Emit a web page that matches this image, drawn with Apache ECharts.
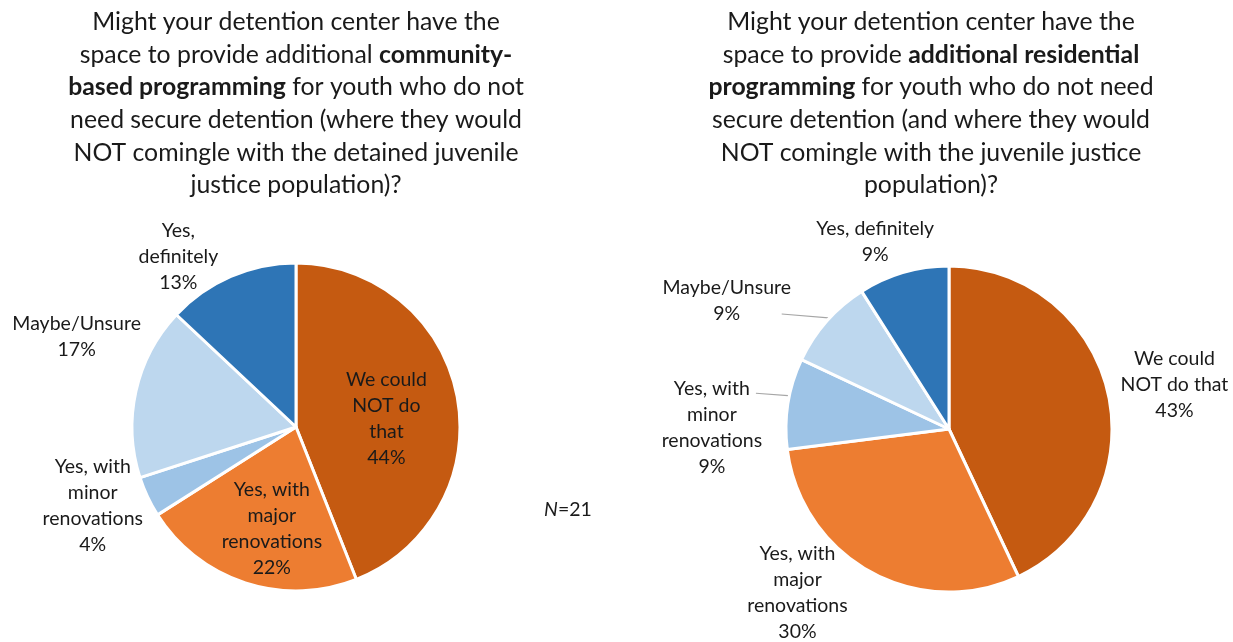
<!DOCTYPE html>
<html>
<head>
<meta charset="utf-8">
<script src="https://cdn.jsdelivr.net/npm/echarts@6/dist/echarts.min.js"></script>
<style>
html,body{margin:0;padding:0;background:#fff;}
#chart{width:1233px;height:642px;}
</style>
</head>
<body>
<div id="chart"></div>
<script>
// ---- Data ----
const leftLabels = ['We could\nNOT do\nthat', 'Yes, with\nmajor\nrenovations', 'Yes, with\nminor\nrenovations', 'Maybe/Unsure', 'Yes,\ndefinitely'];
const leftValues = [44, 22, 4, 17, 13];
const rightLabels = ['We could\nNOT do that', 'Yes, with\nmajor\nrenovations', 'Yes, with\nminor\nrenovations', 'Maybe/Unsure', 'Yes, definitely'];
const rightValues = [43, 30, 9, 9, 9];
const sliceColors = ['#C55A11', '#ED7D31', '#9DC3E6', '#BDD7EE', '#2E75B6'];
const leftTitle = 'Might your detention center have the\nspace to provide additional {b|community-}\n{b|based programming} for youth who do not\nneed secure detention (where they would\nNOT comingle with the detained juvenile\njustice population)?';
const rightTitle = 'Might your detention center have the\nspace to provide {b|additional residential}\n{b|programming} for youth who do not need\nsecure detention (and where they would\nNOT comingle with the juvenile justice\npopulation)?';
const sampleNote = '{i|N}{n|=21}';

// ---- Layout config ----
const FONT = 'Lato';
const LABEL_SIZE = 19.5;
const pies = [
  {center: [296, 427], radius: 164, values: leftValues, labels: leftLabels,
   inside: [true, true, false, false, false],
   // [distance along mid-angle, nudge x, nudge y]
   place: [[90, 2, 9], [104, 8, 3], [218, -6, -14], [234, 9, -39], [203, -37, 16]],
   lines: [null, null, null, null, null]},
  {center: [949, 429], radius: 163, values: rightValues, labels: rightLabels,
   inside: [false, false, false, false, false],
   place: [[230, 1, 6], [217, -47, -26], [235, -5, 35], [251, -34, 38], [200, -18, 5]],
   // [start dx, start dy (from label centre), end dx, end dy (from slice edge)]
   lines: [null, null, [44, -34, -1, -8], [55, 13, 1, -4], null]}
];

function midDir(values, idx) {
  const total = values.reduce((a, b) => a + b, 0);
  let cum = 0;
  for (let i = 0; i < idx; i++) cum += values[i];
  const a = (cum + values[idx] / 2) / total * Math.PI * 2;
  return [Math.sin(a), -Math.cos(a)];
}

function buildSeries(p, si) {
  return {
    type: 'pie',
    center: p.center,
    radius: p.radius,
    startAngle: 90,
    clockwise: true,
    avoidLabelOverlap: false,
    animation: false,
    silent: true,
    itemStyle: {borderColor: '#ffffff', borderWidth: 3},
    label: {
      show: true,
      position: 'outside',
      overflow: 'none',
      fontFamily: FONT,
      fontSize: LABEL_SIZE,
      lineHeight: 26,
      color: '#1a1a1a',
      formatter: (d) => d.name + '\n' + d.value + '%'
    },
    labelLine: {show: false, lineStyle: {color: '#A6A6A6', width: 1.2}},
    data: p.values.map((v, i) => ({
      value: v,
      name: p.labels[i],
      itemStyle: {color: sliceColors[i]},
      label: {position: p.inside[i] ? 'inside' : 'outside'},
      labelLine: {show: !!p.lines[i], length: 10, length2: 10}
    })),
    labelLayout: function (params) {
      const i = params.dataIndex;
      const d = midDir(p.values, i);
      const pl = p.place[i];
      const x = p.center[0] + d[0] * pl[0] + pl[1];
      const y = p.center[1] + d[1] * pl[0] + pl[2];
      const out = {x: x, y: y, align: 'center', verticalAlign: 'middle'};
      const ln = p.lines[i];
      if (ln) {
        out.labelLinePoints = [
          [x + ln[0], y + ln[1]],
          [p.center[0] + d[0] * (p.radius - 1) + ln[2], p.center[1] + d[1] * (p.radius - 1) + ln[3]]
        ];
      }
      return out;
    }
  };
}

const titleStyle = {
  fontFamily: FONT, fontSize: 24.8, fontWeight: 'normal', color: '#1a1a1a', lineHeight: 32.6,
  rich: {b: {fontFamily: FONT, fontSize: 24.8, fontWeight: 'bold', color: '#1a1a1a', lineHeight: 32.6}}
};

const option = {
  backgroundColor: '#ffffff',
  animation: false,
  title: [
    {text: leftTitle, left: 296, top: 6, textAlign: 'center', padding: 0, textStyle: titleStyle},
    {text: rightTitle, left: 931, top: 6, textAlign: 'center', padding: 0, textStyle: titleStyle},
    {text: sampleNote, left: 568, top: 498, textAlign: 'center', padding: 0,
     textStyle: {fontFamily: FONT, fontSize: LABEL_SIZE, fontWeight: 'normal', color: '#1a1a1a', lineHeight: 24,
       rich: {i: {fontFamily: FONT, fontSize: LABEL_SIZE, fontStyle: 'italic', fontWeight: 'normal', color: '#1a1a1a', lineHeight: 24},
              n: {fontFamily: FONT, fontSize: LABEL_SIZE, fontWeight: 'normal', color: '#1a1a1a', lineHeight: 24}}}}
  ],
  series: pies.map(buildSeries)
};

const chart = echarts.init(document.getElementById('chart'), null, {renderer: 'canvas'});
chart.setOption(option);
</script>
</body>
</html>
